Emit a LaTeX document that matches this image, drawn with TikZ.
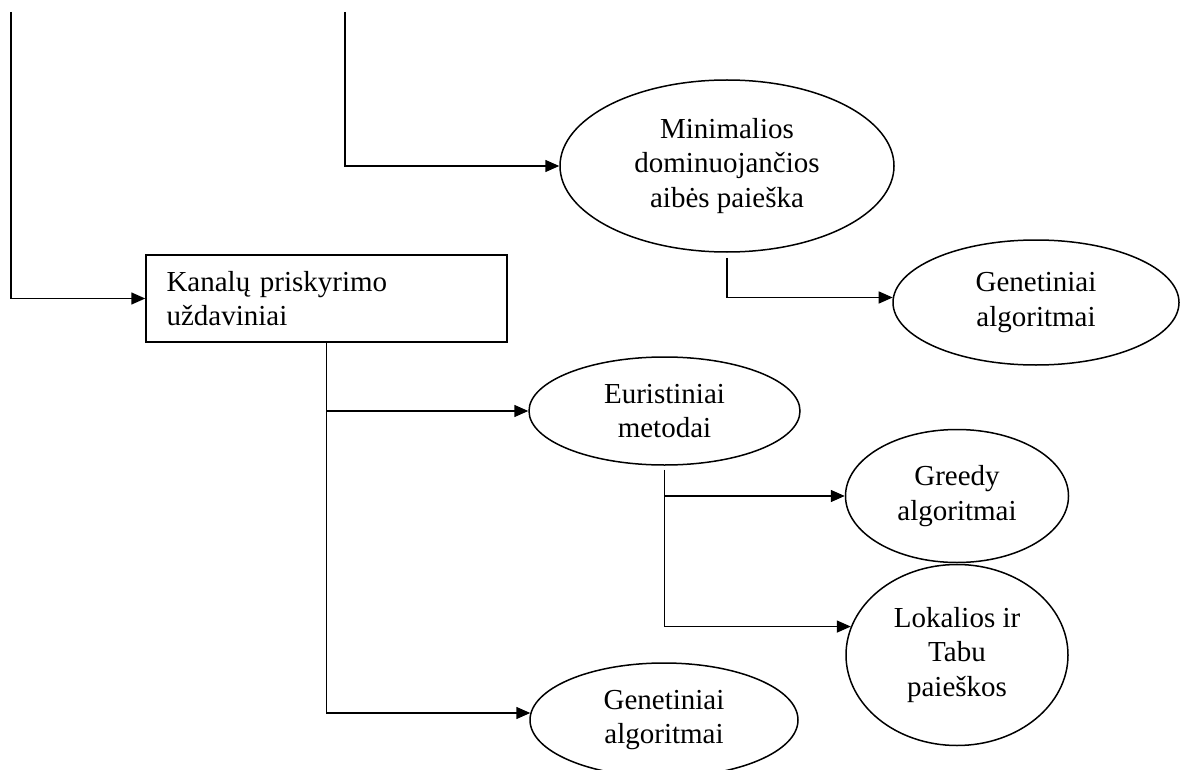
\documentclass[tikz,border=0pt]{standalone}
\usepackage{fontspec}
\setmainfont{Liberation Serif}
\usetikzlibrary{shapes.geometric,arrows.meta}
\begin{document}
\begin{tikzpicture}[x=1pt, y=-1pt, line width=1.5pt,
		font=\fontsize{29}{34.5}\selectfont,
		oval/.style={draw, ellipse, inner sep=0pt, align=center},
		box/.style={draw, rectangle, inner sep=0pt, align=left},
		arr/.style={-{Triangle[length=14pt, width=12pt]}}]
	\clip (0, 0) rectangle (1180, 770);
	\coordinate (top1) at (11, 12);
	\coordinate (top2) at (345, 12);
	\node[box, minimum width=361pt, minimum height=87pt, text width=320pt, inner xsep=20.5pt] (kanalai) at (326.5, 298.5) {Kanalų priskyrimo\\uždaviniai};
	\node[oval, minimum width=334pt, minimum height=172pt] (minimal) at (727, 166) {Minimalios\\dominuojančios\\aibės paieška};
	\node[oval, minimum width=286pt, minimum height=125pt] (gen1) at (1036, 302.5) {Genetiniai\\algoritmai};
	\node[oval, minimum width=271pt, minimum height=108pt] (eur) at (664.5, 411) {Euristiniai\\metodai};
	\node[oval, minimum width=268pt, minimum height=114pt] (gen2) at (664, 720) {Genetiniai\\algoritmai};
	\node[oval, minimum width=223pt, minimum height=133pt] (greedy) at (957, 496) {Greedy\\algoritmai};
	\node[oval, minimum width=222pt, minimum height=181pt] (lok) at (957, 655) {Lokalios ir\\Tabu\\paieškos};
	\draw[arr] (top1) |- (kanalai.west);
	\draw[arr] (top2) |- (minimal.west);
	\draw[arr] ([yshift=-5pt]minimal.south) |- (gen1.178);
	\draw[arr] (kanalai.south) |- (eur.west);
	\draw[arr] (kanalai.south) |- (gen2.177);
	\draw[arr] ([yshift=-4pt]eur.south) |- (greedy.west);
	\draw[arr] ([yshift=-4pt]eur.south) |- (lok.165);
\end{tikzpicture}
\end{document}
